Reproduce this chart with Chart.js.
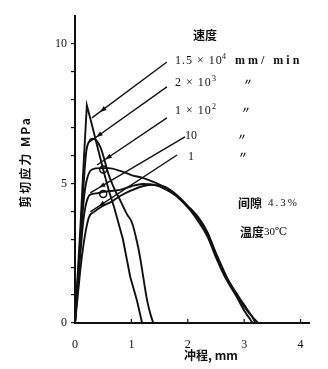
<!DOCTYPE html>
<html>
<head>
<meta charset="utf-8">
<script src="https://cdn.jsdelivr.net/npm/chart.js@4.4.1/dist/chart.umd.min.js"></script>
<style>
  html, body { margin: 0; padding: 0; background: #fff; }
  #wrap { width: 328px; height: 369px; }
</style>
</head>
<body>
<div id="wrap"><canvas id="shearChart" width="328" height="369"></canvas></div>
<script>
// 冲程 (mm) and 剪切应力 (MPa), one pair of arrays per punching speed
const stroke15000 = [0, 0.05, 0.1, 0.15, 0.21, 0.3, 0.4, 0.5, 0.6, 0.7, 0.85, 0.98, 1.1, 1.19];
const stress15000 = [0, 1.8, 3.6, 5.6, 7.8, 7.1, 6.3, 5.5, 4.75, 4.1, 3.0, 1.65, 0.8, 0];

const stroke2000 = [0, 0.05, 0.1, 0.15, 0.2, 0.25, 0.32, 0.45, 0.6, 0.7, 0.8, 0.92, 1.01, 1.1, 1.15, 1.21, 1.28, 1.34, 1.39];
const stress2000 = [0, 1.6, 3.2, 4.9, 6.15, 6.5, 6.6, 6.3, 5.3, 4.8, 4.4, 3.9, 3.6, 2.9, 2.4, 1.65, 0.8, 0.3, 0];

const stroke100 = [0, 0.05, 0.1, 0.15, 0.2, 0.3, 0.45, 0.6, 0.8, 1.0, 1.2, 1.4, 1.6, 1.8, 2.0, 2.2, 2.35, 2.5, 2.6, 2.7, 2.85, 3.0, 3.1, 3.15];
const stress100 = [0, 1.5, 3.0, 4.3, 5.05, 5.5, 5.55, 5.55, 5.45, 5.3, 5.2, 5.05, 4.85, 4.55, 4.15, 3.6, 3.1, 2.35, 1.9, 1.5, 1.0, 0.45, 0.15, 0];

const stroke10 = [0, 0.05, 0.1, 0.15, 0.2, 0.27, 0.4, 0.5, 0.8, 1.0, 1.2, 1.4, 1.6, 1.8, 2.0, 2.2, 2.35, 2.5, 2.6, 2.7, 2.9, 3.05, 3.15, 3.2];
const stress10 = [0, 1.3, 2.6, 3.7, 4.3, 4.6, 4.65, 4.7, 4.77, 4.9, 4.98, 4.95, 4.8, 4.55, 4.15, 3.7, 3.2, 2.45, 2.0, 1.6, 0.95, 0.5, 0.2, 0];

const stroke1 = [0, 0.05, 0.1, 0.15, 0.2, 0.25, 0.35, 0.5, 0.65, 0.8, 1.0, 1.2, 1.4, 1.6, 1.8, 2.0, 2.2, 2.35, 2.5, 2.6, 2.7, 2.9, 3.05, 3.2, 3.25];
const stress1 = [0, 1.0, 2.0, 2.8, 3.4, 3.8, 4.0, 4.2, 4.35, 4.55, 4.75, 4.9, 4.95, 4.88, 4.6, 4.2, 3.75, 3.25, 2.5, 2.05, 1.6, 0.9, 0.45, 0.1, 0];

// leader lines from each speed label down to its curve (label end, curve end)
const leaderStartX = [1.63, 1.63, 1.63, 1.95, 1.81];
const leaderStartY = [9.35, 8.46, 7.35, 6.67, 6.02];
const leaderEndX = [0.30, 0.23, 0.39, 0.27, 0.27];
const leaderEndY = [7.35, 6.45, 5.66, 4.66, 3.98];

// open circles on the 1×10² and 10 curves
const ringX = [0.5, 0.5];
const ringY = [5.5, 4.62];

const yTickValues = [0, 1, 2, 3, 4, 5, 6, 7, 8, 9, 10];
const yTickLabels = { 0: '0', 5: '5', 10: '10' };
const xTickValues = [0, 1, 2, 3, 4];

const ink = '#111';
const serif = '"Liberation Serif", "DejaVu Serif", serif';
const cjk = '"Noto Sans CJK SC", sans-serif';

function pairs(xs, ys) {
  return xs.map((x, i) => ({ x: x, y: ys[i] }));
}

function curve(xs, ys, smooth) {
  return {
    data: pairs(xs, ys),
    borderColor: ink,
    borderWidth: 1.9,
    pointRadius: 0,
    fill: false,
    cubicInterpolationMode: smooth ? 'monotone' : 'default',
    tension: 0
  };
}

const datasets = [
  curve(stroke15000, stress15000, false),
  curve(stroke2000, stress2000, true),
  curve(stroke100, stress100, true),
  curve(stroke10, stress10, true),
  curve(stroke1, stress1, true)
];

leaderStartX.forEach((x, i) => {
  datasets.push({
    data: pairs([x, leaderEndX[i]], [leaderStartY[i], leaderEndY[i]]),
    borderColor: ink,
    borderWidth: 1.4,
    pointRadius: 0,
    fill: false
  });
});

datasets.push({
  data: pairs(ringX, ringY),
  showLine: false,
  pointRadius: 3.5,
  pointBackgroundColor: '#fff',
  pointBorderColor: ink,
  pointBorderWidth: 1.5
});

function text(ctx, str, x, y, font, align, spacing) {
  ctx.font = font;
  ctx.textAlign = align || 'left';
  ctx.textBaseline = 'middle';
  ctx.letterSpacing = spacing || '0px';
  ctx.fillText(str, x, y);
  ctx.letterSpacing = '0px';
}

// labels, arrowheads and the upward x ticks
const annotations = {
  id: 'annotations',
  afterDatasetsDraw(chart) {
    const ctx = chart.ctx;
    const xs = chart.scales.x;
    const ys = chart.scales.y;
    ctx.save();
    ctx.fillStyle = ink;
    ctx.strokeStyle = ink;

    // x ticks point up into the plot
    ctx.lineWidth = 1.2;
    xTickValues.slice(1).forEach(v => {
      const px = xs.getPixelForValue(v);
      ctx.beginPath();
      ctx.moveTo(px, ys.bottom);
      ctx.lineTo(px, ys.bottom - 4);
      ctx.stroke();
    });

    // arrowheads near the curve end of every leader
    leaderStartX.forEach((x, i) => {
      const x0 = xs.getPixelForValue(x), y0 = ys.getPixelForValue(leaderStartY[i]);
      const x1 = xs.getPixelForValue(leaderEndX[i]), y1 = ys.getPixelForValue(leaderEndY[i]);
      const ang = Math.atan2(y1 - y0, x1 - x0);
      const tx = x1 - Math.cos(ang) * 10, ty = y1 - Math.sin(ang) * 10;
      ctx.beginPath();
      ctx.moveTo(tx, ty);
      ctx.lineTo(tx - Math.cos(ang - 0.35) * 7, ty - Math.sin(ang - 0.35) * 7);
      ctx.lineTo(tx - Math.cos(ang + 0.35) * 7, ty - Math.sin(ang + 0.35) * 7);
      ctx.closePath();
      ctx.fill();
    });

    // speed legend
    text(ctx, '速度', 193, 35, 'bold 12px ' + cjk);
    text(ctx, '1.5 × 10', 175, 61, '12px ' + serif, 'left', '1px');
    text(ctx, '4', 222, 57, '8px ' + serif);
    text(ctx, 'mm/ min', 235, 61, 'bold 12px ' + serif, 'left', '3px');
    text(ctx, '2 × 10', 175, 83, '12px ' + serif, 'left', '1px');
    text(ctx, '3', 212, 79, '8px ' + serif);
    text(ctx, '1 × 10', 175, 111, '12px ' + serif, 'left', '1px');
    text(ctx, '2', 212, 107, '8px ' + serif);
    text(ctx, '10', 185, 136, '12px ' + serif);
    text(ctx, '1', 188, 157, '12px ' + serif);
    [[248, 82], [246, 110], [242, 137], [243, 155]].forEach(p => {
      text(ctx, '〃', p[0], p[1], 'bold 9px ' + cjk, 'center');
    });

    text(ctx, '间隙', 238, 203, 'bold 12px ' + cjk);
    text(ctx, '4.3%', 268, 203, '11px ' + serif, 'left', '2px');
    text(ctx, '温度', 240, 232, 'bold 12px ' + cjk);
    text(ctx, '30℃', 264, 232, '11px ' + serif);

    // axis titles
    text(ctx, '冲程, mm', 211, 355, 'bold 12px ' + cjk, 'center');
    ctx.save();
    ctx.translate(25, 162);
    ctx.rotate(-Math.PI / 2);
    text(ctx, '剪切应力 MPa', 0, 0, 'bold 12px ' + cjk, 'center', '2px');
    ctx.restore();

    ctx.restore();
  }
};

const tickFont = { family: serif, size: 12 };

new Chart(document.getElementById('shearChart'), {
  type: 'line',
  data: { datasets: datasets },
  options: {
    responsive: false,
    animation: false,
    layout: { padding: { top: 16, right: 19, left: 0, bottom: 0 } },
    plugins: { legend: { display: false }, tooltip: { enabled: false } },
    scales: {
      x: {
        type: 'linear',
        min: 0,
        max: 4.15,
        afterFit: s => { s.height = 46; },
        afterBuildTicks: s => { s.ticks = xTickValues.map(v => ({ value: v })); },
        grid: { display: false },
        border: { color: ink, width: 2 },
        ticks: { padding: 7, color: ink, font: tickFont, maxRotation: 0, autoSkip: false }
      },
      y: {
        min: 0,
        max: 11,
        afterFit: s => { s.width = 75; },
        afterBuildTicks: s => { s.ticks = yTickValues.map(v => ({ value: v })); },
        grid: { drawOnChartArea: false, tickLength: 4, color: ink, lineWidth: 1.2 },
        border: { color: ink, width: 2 },
        ticks: {
          padding: 4,
          color: ink,
          font: tickFont,
          autoSkip: false,
          callback: v => yTickLabels[v] || ''
        }
      }
    }
  },
  plugins: [annotations]
});
</script>
</body>
</html>
